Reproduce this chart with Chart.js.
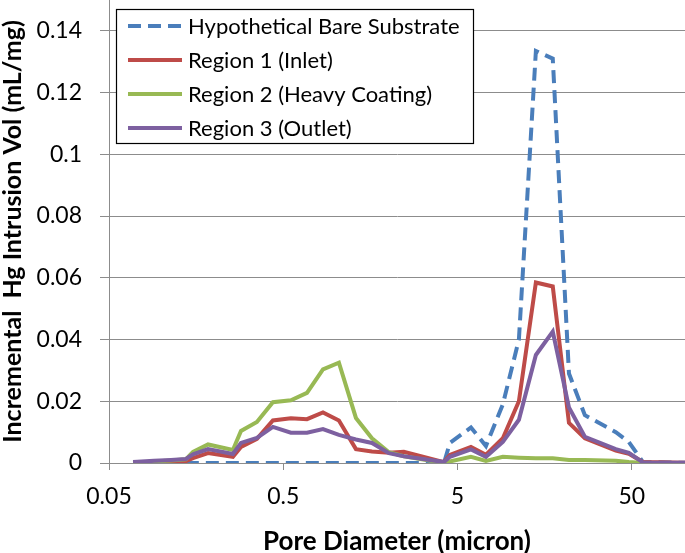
<!DOCTYPE html>
<html>
<head>
<meta charset="utf-8">
<script src="https://cdn.jsdelivr.net/npm/chart.js@4"></script>
<style>
  body { margin: 0; background: #fff; }
  canvas { display: block; }
</style>
</head>
<body>
<canvas id="chart" width="685" height="553"></canvas>
<script>
// pore diameter (micron), shared by all series
var poreDiameter = [0.0687, 0.0906, 0.1134, 0.138, 0.1517, 0.185, 0.257, 0.286, 0.353, 0.436,
  0.553, 0.684, 0.845, 1.043, 1.306, 1.614, 2.02, 2.46, 4.18, 4.52,
  5.97, 7.28, 9.1, 11.25, 14.08, 17.6, 21.8, 26.9, 40.5, 48.1, 57.9, 120];

var bareSubstrate = [null, null, null, 0, 0, 0, 0, 0, 0, 0,
  0, 0, 0, 0, 0, 0, 0, 0, 0, 0.0065,
  0.0115, 0.0055, 0.019, 0.040, 0.1335, 0.131, 0.029, 0.0155, 0.0100, 0.0068, 0.0003, 0];

var region1 = [0, 0.0002, 0.0005, 0.0006, 0.0016, 0.0032, 0.0020, 0.0052, 0.0078, 0.0138,
  0.0145, 0.0142, 0.0164, 0.0138, 0.0045, 0.0037, 0.0033, 0.0036, 0.0003, 0.0026,
  0.0052, 0.0027, 0.0080, 0.0200, 0.0585, 0.0572, 0.0130, 0.0080, 0.0040, 0.0030, 0.0003, 0];

var region2 = [0, 0.0005, 0.0008, 0.0012, 0.0036, 0.0060, 0.0042, 0.0104, 0.0133, 0.0197,
  0.0203, 0.0227, 0.0303, 0.0325, 0.0146, 0.0080, 0.0035, 0.0022, 0, 0.0005,
  0.0020, 0.0007, 0.0020, 0.0017, 0.0015, 0.0015, 0.0010, 0.0010, 0.0007, 0.0003, 0, 0];

var region3 = [0.0003, 0.0007, 0.0010, 0.0013, 0.0028, 0.0045, 0.0029, 0.0065, 0.0081, 0.0117,
  0.0098, 0.0098, 0.0110, 0.0091, 0.0076, 0.0065, 0.0032, 0.0022, 0.0003, 0.0020,
  0.0044, 0.0020, 0.0068, 0.0140, 0.0350, 0.0426, 0.0180, 0.0085, 0.0045, 0.0033, 0.0002, 0];

var seriesNames = ['Hypothetical Bare Substrate', 'Region 1 (Inlet)', 'Region 2 (Heavy Coating)', 'Region 3 (Outlet)'];
var xTicks = [0.05, 0.5, 5, 50];
var yTicks = [0, 0.02, 0.04, 0.06, 0.08, 0.1, 0.12, 0.14];

var FONT = "Lato, 'Open Sans', sans-serif";
var GRID = '#8c8c8c';

function points(values) {
  return poreDiameter.map(function (d, i) { return { x: d, y: values[i] }; });
}

function series(name, values, color, dash, order) {
  return {
    label: name,
    data: points(values),
    borderColor: color,
    backgroundColor: color,
    borderWidth: 4,
    borderDash: dash,
    pointRadius: 0,
    tension: 0,
    fill: false,
    spanGaps: false,
    order: order
  };
}

// legend drawn in a boxed frame inside the plot, like the original
var boxLegend = {
  id: 'boxLegend',
  afterDatasetsDraw: function (chart) {
    var ctx = chart.ctx;
    var left = 116, top = 9, w = 357, h = 134;
    ctx.save();
    ctx.fillStyle = '#fff';
    ctx.fillRect(left, top, w, h);
    ctx.strokeStyle = '#000';
    ctx.lineWidth = 1.2;
    ctx.strokeRect(left + 0.5, top + 0.5, w, h);
    ctx.font = '22px ' + FONT;
    ctx.textBaseline = 'middle';
    chart.data.datasets.forEach(function (ds, i) {
      var y = top + 17 + i * 34;
      ctx.beginPath();
      ctx.setLineDash(ds.borderDash || []);
      ctx.strokeStyle = ds.borderColor;
      ctx.lineWidth = ds.borderWidth;
      ctx.moveTo(128, y);
      ctx.lineTo(182, y);
      ctx.stroke();
      ctx.setLineDash([]);
      ctx.fillStyle = '#000';
      ctx.fillText(ds.label, 188, y + 1);
    });
    ctx.restore();
  }
};

var chart = new Chart(document.getElementById('chart'), {
  type: 'line',
  data: {
    datasets: [
      series(seriesNames[0], bareSubstrate, '#4a7ebb', [13, 7], 4),
      series(seriesNames[1], region1, '#be4b48', [], 3),
      series(seriesNames[2], region2, '#98b954', [], 2),
      series(seriesNames[3], region3, '#7d60a0', [], 1)
    ]
  },
  options: {
    responsive: false,
    animation: false,
    devicePixelRatio: 1,
    layout: { padding: 0 },
    plugins: {
      legend: { display: false },
      tooltip: { enabled: false }
    },
    scales: {
      x: {
        type: 'logarithmic',
        min: 0.05,
        max: 101,
        afterBuildTicks: function (scale) {
          scale.ticks = xTicks.map(function (v) { return { value: v }; });
        },
        afterFit: function (scale) {
          scale.height = 90;
          scale.paddingLeft = 0;
          scale.paddingRight = 0;
        },
        ticks: {
          color: '#000',
          font: { family: FONT, size: 23 },
          padding: 13,
          maxRotation: 0,
          callback: function (v) { return String(v); }
        },
        grid: { drawOnChartArea: false, color: GRID, tickLength: 7 },
        border: { color: GRID, width: 1 },
        title: {
          display: true,
          text: 'Pore Diameter (micron)',
          color: '#000',
          font: { family: FONT, size: 26, weight: 'bold', lineHeight: 0.9 },
          padding: { top: 0, bottom: 0 }
        }
      },
      y: {
        min: 0,
        max: 0.15,
        afterBuildTicks: function (scale) {
          scale.ticks = yTicks.map(function (v) { return { value: v }; });
        },
        afterFit: function (scale) {
          scale.width = 109;
          scale.paddingTop = 0;
          scale.paddingBottom = 0;
        },
        ticks: {
          color: '#000',
          font: { family: FONT, size: 23 },
          padding: 18,
          callback: function (v) { return String(+v.toFixed(2)); }
        },
        grid: { color: GRID, lineWidth: 1, tickLength: 9 },
        border: { color: GRID, width: 1 },
        title: {
          display: true,
          text: 'Incremental  Hg Intrusion Vol (mL/mg)',
          color: '#000',
          font: { family: FONT, size: 25, weight: 'bold', lineHeight: 1 },
          padding: { top: 0, bottom: 0 }
        }
      }
    }
  },
  plugins: [boxLegend]
});
</script>
</body>
</html>
